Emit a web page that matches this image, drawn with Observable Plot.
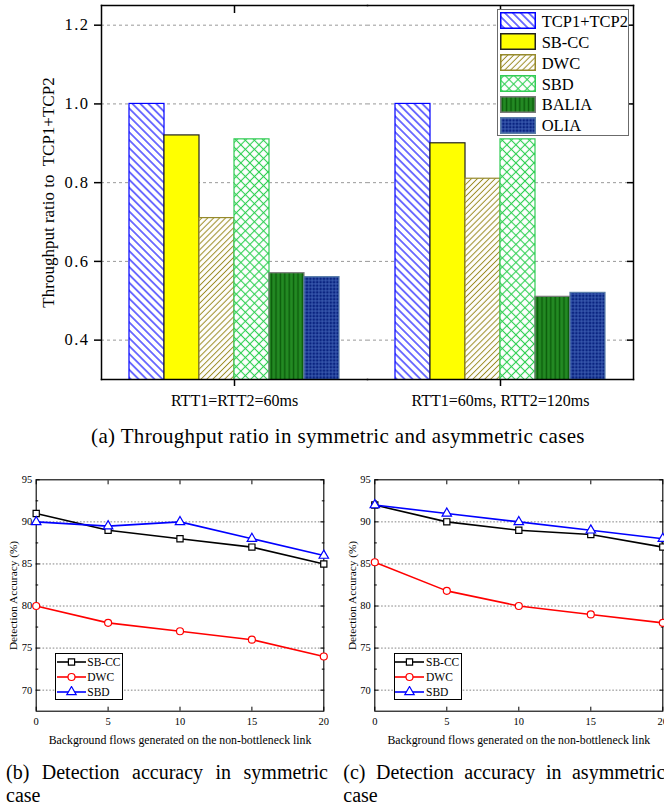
<!DOCTYPE html>
<html><head><meta charset="utf-8">
<script src="https://cdn.jsdelivr.net/npm/d3@7"></script>
<script src="https://cdn.jsdelivr.net/npm/@observablehq/plot@0.6"></script>
<style>
html,body{margin:0;padding:0;background:#fff;}
#page{position:relative;width:664px;height:808px;overflow:hidden;font-family:"Liberation Serif","Times New Roman",serif;color:#000;background:#fff;}
#page svg, #page svg text{font-family:"Liberation Serif","Times New Roman",serif !important;}
#chartA g[aria-label="y-axis tick label"] text{letter-spacing:1.5px;}
.cap{position:absolute;font-size:20px;line-height:23px;white-space:nowrap;}
.just{text-align:justify;text-align-last:justify;white-space:normal;}
</style></head><body>
<svg width="0" height="0" style="position:absolute">
<defs>
  <pattern id="pTCP" patternUnits="userSpaceOnUse" width="5.6" height="5.6" patternTransform="rotate(-45)">
    <rect width="5.6" height="5.6" fill="#fff"/>
    <line x1="2.8" y1="0" x2="2.8" y2="5.6" stroke="#0000ff" stroke-width="1.1"/>
  </pattern>
  <pattern id="pDWC" patternUnits="userSpaceOnUse" width="4.2" height="4.2" patternTransform="rotate(45)">
    <rect width="4.2" height="4.2" fill="#fff"/>
    <line x1="2.1" y1="0" x2="2.1" y2="4.2" stroke="#9c8c25" stroke-width="1"/>
  </pattern>
  <pattern id="pSBD" patternUnits="userSpaceOnUse" width="6.4" height="6.4" patternTransform="rotate(45)">
    <rect width="6.4" height="6.4" fill="#fff"/>
    <line x1="3.2" y1="0" x2="3.2" y2="6.4" stroke="#2fd052" stroke-width="1.1"/>
    <line x1="0" y1="3.2" x2="6.4" y2="3.2" stroke="#2fd052" stroke-width="1.1"/>
  </pattern>
  <pattern id="pBALIA" patternUnits="userSpaceOnUse" width="4.4" height="4.4">
    <rect width="4.4" height="4.4" fill="#238a23"/>
    <line x1="2.2" y1="0" x2="2.2" y2="4.4" stroke="#0b5c0b" stroke-width="1.4"/>
  </pattern>
  <pattern id="pOLIA" patternUnits="userSpaceOnUse" width="3.4" height="3.4">
    <rect width="3.4" height="3.4" fill="#0a2480"/>
    <line x1="1.7" y1="0" x2="1.7" y2="3.4" stroke="#4668bb" stroke-width="0.8"/>
    <line x1="0" y1="1.7" x2="3.4" y2="1.7" stroke="#4668bb" stroke-width="0.8"/>
  </pattern>
</defs>
</svg>
<div id="page"></div>
<script>
// ---------------- data ----------------
const groups = ["RTT1=RTT2=60ms", "RTT1=60ms, RTT2=120ms"];
const schemes = ["TCP1+TCP2", "SB-CC", "DWC", "SBD", "BALIA", "OLIA"];
const ratioSymmetric = [1.0, 0.92, 0.71, 0.91, 0.57, 0.56];
const ratioAsymmetric = [1.0, 0.90, 0.81, 0.91, 0.51, 0.52];
const ratioTicks = [0.4, 0.6, 0.8, 1.0, 1.2];
const ratioLabel = "Throughput ratio to  TCP1+TCP2";

const flows = [0, 5, 10, 15, 20];
const detectors = ["SB-CC", "DWC", "SBD"];
const accSymSBCC = [91, 89, 88, 87, 85];
const accSymDWC = [80, 78, 77, 76, 74];
const accSymSBD = [90, 89.5, 90, 88, 86];
const accAsymSBCC = [92, 90, 89, 88.5, 87];
const accAsymDWC = [85.2, 81.8, 80, 79, 78];
const accAsymSBD = [92, 91, 90, 89, 88];
const accTicks = [70, 75, 80, 85, 90, 95];
const accGrid = [70, 75, 80, 85, 90];
const accMinor = [72.5, 77.5, 82.5, 87.5, 92.5];
const accXLabel = "Background flows generated on the non-bottleneck link";
const accYLabel = "Detection Accuracy (%)";

const captionA = "(a) Throughput ratio in symmetric and asymmetric cases";
const captionB = ["(b) Detection accuracy in symmetric", "case"];
const captionC = ["(c) Detection accuracy in asymmetric", "case"];

// ---------------- styles ----------------
const SERIF = "Liberation Serif, Times New Roman, serif";
const barFill = {"TCP1+TCP2": "url(#pTCP)", "SB-CC": "#ffff00", "DWC": "url(#pDWC)", "SBD": "url(#pSBD)", "BALIA": "url(#pBALIA)", "OLIA": "url(#pOLIA)"};
const barStroke = {"TCP1+TCP2": "#0000ff", "SB-CC": "#222222", "DWC": "#968a2c", "SBD": "#33cc55", "BALIA": "#7a7a7a", "OLIA": "#5a7da8"};
const lineStyle = {
  "SB-CC": {stroke: "#000000", symbol: "square", d3sym: d3.symbolSquare},
  "DWC": {stroke: "#ff0000", symbol: "circle", d3sym: d3.symbolCircle},
  "SBD": {stroke: "#0000ff", symbol: "triangle", d3sym: d3.symbolTriangle}
};

const page = document.getElementById("page");
function place(el, left, top) { el.style.position = "absolute"; el.style.left = left + "px"; el.style.top = top + "px"; page.appendChild(el); return el; }

// ---------------- (a) bar chart ----------------
const barData = groups.flatMap((g, gi) => schemes.map((s, si) => ({group: g, series: s, value: (gi === 0 ? ratioSymmetric : ratioAsymmetric)[si]})));

const chartA = Plot.plot({
  width: 664, height: 412,
  marginLeft: 100, marginRight: 30.7, marginTop: 5, marginBottom: 33,
  style: {fontFamily: SERIF, fontSize: "15px", background: "transparent", color: "#000"},
  fx: {domain: groups, padding: 0, label: null, axis: null},
  x: {domain: schemes, paddingInner: 0, paddingOuter: 0.75, axis: null},
  y: {domain: [0.3, 1.25], axis: null},
  marks: [
    Plot.gridY(ratioTicks, {stroke: "#999", strokeOpacity: 1, strokeDasharray: "3,3", strokeWidth: 1}),
    ...schemes.map(s => Plot.barY(barData.filter(d => d.series === s), {
      fx: "group", x: "series", y: "value", fill: barFill[s], stroke: barStroke[s], strokeWidth: 1.2, clip: true
    })),
    Plot.frame({anchor: "top", strokeWidth: 1.5}),
    Plot.frame({anchor: "bottom", strokeWidth: 1.5}),
    Plot.frame({anchor: "left", strokeWidth: 1.5, facetAnchor: "left"}),
    Plot.frame({anchor: "right", strokeWidth: 1.5, facetAnchor: "right"}),
    Plot.axisY(ratioTicks, {anchor: "left", tickSize: 7, tickPadding: 5, tickFormat: d3.format(".1f"), fontSize: 16.5, label: null, strokeWidth: 1.5}),
    Plot.axisY(ratioTicks, {anchor: "right", tickSize: -7, tickFormat: () => "", label: null, strokeWidth: 1.5}),
    Plot.axisFx({anchor: "bottom", tickSize: 7, tickPadding: 8.5, label: null, fontSize: 16, strokeWidth: 1.5}),
    Plot.axisFx({anchor: "top", tickSize: -7, tickFormat: () => "", label: null, strokeWidth: 1.5}),
    Plot.text([ratioLabel], {frameAnchor: "left", facetAnchor: "left", rotate: -90, dx: -53, fontSize: 17, textAnchor: "middle", lineAnchor: "middle"})
  ]
});
chartA.id = "chartA";
place(chartA, 0, 0);

// legend (a)
(function () {
  const box = document.createElement("div");
  Object.assign(box.style, {width: "132px", height: "127px", boxSizing: "border-box", border: "1.3px solid #6b6b6b", background: "#fff"});
  place(box, 497, 9.3);
  schemes.forEach((s, i) => {
    const top = 12.3 + i * 20.9;
    const sw = document.createElementNS("http://www.w3.org/2000/svg", "svg");
    sw.setAttribute("width", 36); sw.setAttribute("height", 17);
    const r = document.createElementNS("http://www.w3.org/2000/svg", "rect");
    r.setAttribute("x", 0.75); r.setAttribute("y", 0.75); r.setAttribute("width", 34.5); r.setAttribute("height", 15.5);
    r.setAttribute("fill", barFill[s]); r.setAttribute("stroke", barStroke[s]); r.setAttribute("stroke-width", 1.5);
    sw.appendChild(r);
    place(sw, 500, top);
    const t = document.createElement("div");
    t.textContent = s;
    Object.assign(t.style, {fontSize: "16.5px", lineHeight: "17px", whiteSpace: "nowrap"});
    place(t, 541.7, top + 0.5);
  });
})();

// caption (a)
(function () {
  const c = document.createElement("div");
  c.className = "cap";
  c.textContent = captionA;
  Object.assign(c.style, {width: "664px", textAlign: "center", fontSize: "21px", letterSpacing: "0.35px"});
  place(c, 6, 425);
})();

// ---------------- (b), (c) line charts ----------------
function accuracyChart(values, o) {
  const marks = [
    Plot.gridY(accGrid, {stroke: "#666", strokeOpacity: 1, strokeDasharray: "1.6,1.8", strokeWidth: 0.8}),
    Plot.frame({strokeWidth: 1.1}),
    Plot.axisX(flows, {anchor: "bottom", tickSize: -4, tickPadding: 10.5, label: null, fontSize: 10.5}),
    Plot.axisX(flows, {anchor: "top", tickSize: -4, tickFormat: () => "", label: null}),
    Plot.axisY(accTicks, {anchor: "left", tickSize: -4, tickPadding: 8, label: null, fontSize: 10.5}),
    Plot.axisY(accTicks, {anchor: "right", tickSize: -4, tickFormat: () => "", label: null}),
    Plot.axisY(accMinor, {anchor: "left", tickSize: -2.5, tickFormat: () => "", label: null}),
    Plot.axisY(accMinor, {anchor: "right", tickSize: -2.5, tickFormat: () => "", label: null}),
    Plot.text([accXLabel], {frameAnchor: "bottom", dy: 28.6, fontSize: 11.8, lineAnchor: "middle"}),
    Plot.text([accYLabel], {frameAnchor: "left", rotate: -90, dx: -22.7, fontSize: 11.3, textAnchor: "middle", lineAnchor: "middle"})
  ];
  detectors.forEach((name, k) => {
    const st = lineStyle[name];
    marks.push(Plot.line(values[k], {x: (d, i) => flows[i], y: d => d, stroke: st.stroke, strokeWidth: 1.6}));
  });
  detectors.forEach((name, k) => {
    const st = lineStyle[name];
    marks.push(Plot.dot(values[k], {x: (d, i) => flows[i], y: d => d, symbol: st.symbol, r: 3.5, fill: "#fff", stroke: st.stroke, strokeWidth: 1.2}));
  });
  return Plot.plot({
    width: o.width, height: 280,
    marginLeft: o.marginLeft, marginRight: o.marginRight, marginTop: 9.3, marginBottom: 39.3,
    style: {fontFamily: SERIF, fontSize: "10px", background: "transparent", color: "#000", overflow: "visible"},
    x: {domain: [0, 20], axis: null},
    y: {domain: [67.5, 95], axis: null},
    marks
  });
}

function accuracyLegend(left, top) {
  const box = document.createElement("div");
  Object.assign(box.style, {width: "68px", height: "46.7px", boxSizing: "border-box", border: "1px solid #000", background: "#fff"});
  place(box, left, top);
  detectors.forEach((name, i) => {
    const st = lineStyle[name];
    const cy = top + 9 + i * 14.7;
    const sw = document.createElementNS("http://www.w3.org/2000/svg", "svg");
    sw.setAttribute("width", 30); sw.setAttribute("height", 12);
    const ln = document.createElementNS("http://www.w3.org/2000/svg", "line");
    ln.setAttribute("x1", 0); ln.setAttribute("x2", 29); ln.setAttribute("y1", 6); ln.setAttribute("y2", 6);
    ln.setAttribute("stroke", st.stroke); ln.setAttribute("stroke-width", 1.6);
    sw.appendChild(ln);
    const p = document.createElementNS("http://www.w3.org/2000/svg", "path");
    p.setAttribute("d", d3.symbol(st.d3sym, Math.PI * 3.5 * 3.5)());
    p.setAttribute("transform", "translate(14.5,6)");
    p.setAttribute("fill", "#fff"); p.setAttribute("stroke", st.stroke); p.setAttribute("stroke-width", 1.2);
    sw.appendChild(p);
    place(sw, left + 1.2, cy - 6);
    const t = document.createElement("div");
    t.textContent = name;
    Object.assign(t.style, {fontSize: "11.5px", lineHeight: "12px", whiteSpace: "nowrap"});
    place(t, left + 32, cy - 6);
  });
}

function caption2(lines, left) {
  const a = document.createElement("div");
  a.className = "cap just";
  a.textContent = lines[0];
  a.style.width = "322px";
  place(a, left, 760.5);
  const b = document.createElement("div");
  b.className = "cap";
  b.textContent = lines[1];
  place(b, left, 783.5);
}

const chartB = accuracyChart([accSymSBCC, accSymDWC, accSymSBD], {width: 332, marginLeft: 35.7, marginRight: 8.7});
place(chartB, 0, 470);
accuracyLegend(55.3, 653.3);
caption2(captionB, 6);

const chartC = accuracyChart([accAsymSBCC, accAsymDWC, accAsymSBD], {width: 340, marginLeft: 42.3, marginRight: 9.7});
place(chartC, 332, 470);
accuracyLegend(394, 653.3);
caption2(captionC, 343.3);
</script>
</body></html>
